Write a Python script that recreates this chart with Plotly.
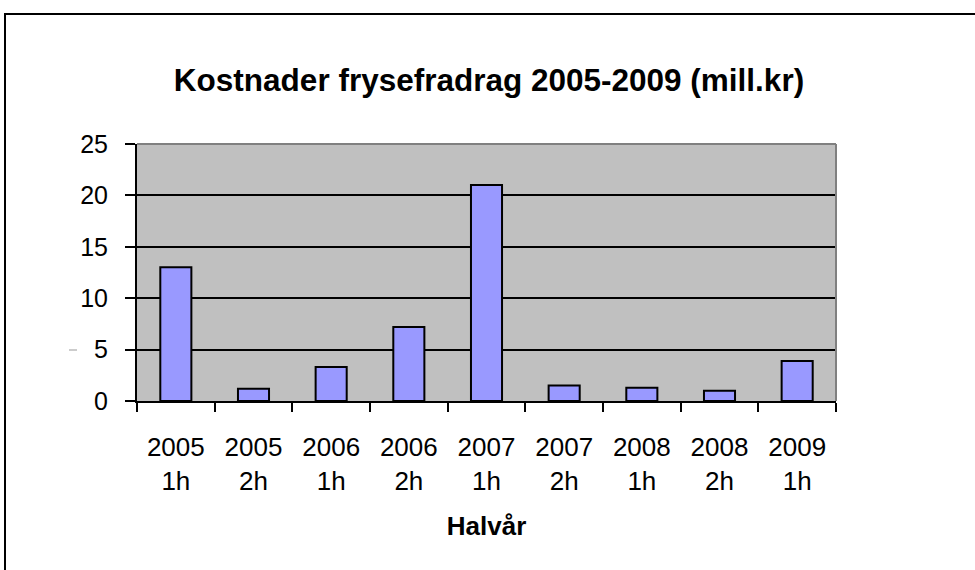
import plotly.graph_objects as go

categories = ["2005<br>1h", "2005<br>2h", "2006<br>1h", "2006<br>2h", "2007<br>1h",
              "2007<br>2h", "2008<br>1h", "2008<br>2h", "2009<br>1h"]
values = [13.0, 1.2, 3.3, 7.2, 21.0, 1.5, 1.3, 1.0, 3.9]
y_ticks = [0, 5, 10, 15, 20, 25]

W, H = 975, 570
L, R, T, B = 137, 139, 144, 169
pw, ph = W - L - R, H - T - B


def px_x(x):
    return (x - L) / pw


def px_y(y):
    return 1 - (y - T) / ph


fig = go.Figure(go.Bar(
    x=categories, y=values, width=0.4,
    marker=dict(color="#9999FF", line=dict(color="black", width=2)),
))

shapes = [
    # outer chart frame (left & top edges visible)
    dict(type="line", xref="paper", yref="paper", x0=px_x(5), x1=px_x(5), y0=px_y(13), y1=px_y(600),
         line=dict(color="black", width=2)),
    dict(type="line", xref="paper", yref="paper", x0=px_x(4), x1=px_x(1000), y0=px_y(14), y1=px_y(14),
         line=dict(color="black", width=2)),
    # grey plot-area border on top/right
    dict(type="line", xref="paper", yref="paper", x0=0, x1=1, y0=1, y1=1, line=dict(color="#808080", width=2)),
    dict(type="line", xref="paper", yref="paper", x0=1, x1=1, y0=0, y1=1, line=dict(color="#808080", width=2)),
    # tiny stray dash left of axis
    dict(type="line", xref="paper", yref="paper", x0=px_x(69), x1=px_x(77), y0=px_y(350), y1=px_y(350),
         line=dict(color="#999999", width=1)),
]

fig.update_layout(
    width=W, height=H,
    margin=dict(l=L, r=R, t=T, b=B),
    paper_bgcolor="white", plot_bgcolor="#C0C0C0",
    font=dict(family="Liberation Sans, Arial, sans-serif", color="black"),
    title=dict(text="<b>Kostnader frysefradrag 2005-2009 (mill.kr)</b>",
               x=px_x(489), xref="paper", xanchor="center",
               y=1 - 80 / H, yanchor="middle", font=dict(size=31.5)),
    showlegend=False,
    shapes=shapes,
    xaxis=dict(
        showline=True, linecolor="black", linewidth=2,
        ticks="outside", ticklen=9, tickwidth=2, tickcolor="black",
        tickson="boundaries", tickfont=dict(size=26),
        ticklabelstandoff=22,
        showgrid=False,
        title=dict(text="<b>Halvår</b>", font=dict(size=26), standoff=22),
    ),
    yaxis=dict(
        range=[0, 25], tickvals=y_ticks,
        showline=True, linecolor="black", linewidth=2,
        ticks="outside", ticklen=10, tickwidth=2, tickcolor="black",
        tickfont=dict(size=25),
        ticklabelstandoff=12,
        showgrid=True, gridcolor="black", gridwidth=2,
        zeroline=False,
    ),
)

fig.write_html("out.html", config={"displayModeBar": False},
               post_script="document.body.style.margin='0';document.body.style.overflow='hidden';")
